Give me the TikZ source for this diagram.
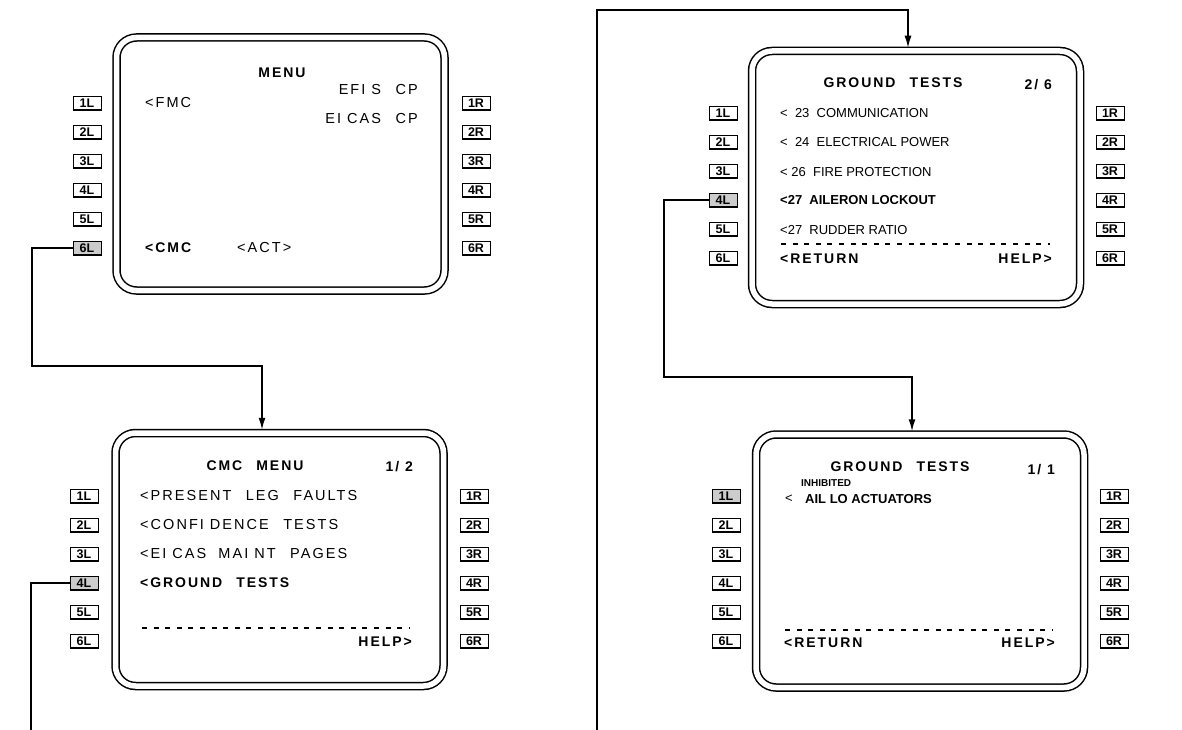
\documentclass[tikz,border=0pt]{standalone}
\usepackage{fontspec}
\setmainfont{Liberation Sans}
\newfontfamily\spaced[LetterSpace=14]{Liberation Sans}
\usetikzlibrary{positioning, arrows.meta}

\tikzset{
    key/.style={draw, line width=0.9pt, minimum width=28pt, minimum height=12.5pt, inner sep=0pt,
        font=\bfseries\fontsize{12.5}{12.5}\selectfont},
    screen/.style={draw, double, double distance=5.5pt, line width=1.5pt, rounded corners=20pt,
        minimum width=328pt, minimum height=253pt},
    link/.style={line width=1.5pt},
    linkto/.style={link, -{Latex[length=12pt,width=7pt]}, shorten >=2.5pt},
    txt/.style={inner sep=0pt, font=\spaced\fontsize{14.5}{14.5}\selectfont},
    txtb/.style={inner sep=0pt, font=\spaced\bfseries\fontsize{14}{14}\selectfont},
    plain/.style={inner sep=0pt, font=\fontsize{13}{13}\selectfont},
    plainb/.style={inner sep=0pt, font=\bfseries\fontsize{13}{13}\selectfont},
    dashrow/.style={line width=1.3pt, dash pattern=on 5pt off 6.6pt}
}

\begin{document}
\begin{tikzpicture}[x=1pt, y=-1pt]
    \useasboundingbox (0,0) rectangle (1182,730);

    % the four display screens
    \node[screen] (menu) at (280.5,164) {};
    \node[screen] (cmc) at (279.5,559.5) {};
    \node[screen] (gt) at (916,177.5) {};
    \node[screen] (inh) at (920,561) {};

    % line select keys, the pressed one shaded
    \foreach \s/\xl/\xr/\yo/\on in {a/87/476/103/6, b/84/474/496/4, c/723/1110/113/4, d/726/1114/496/1} {
        \foreach \i in {1,...,6} {
            \pgfmathparse{\i==\on ? "gray!40" : "white"}
            \edef\kfill{\pgfmathresult}
            \node[key, fill=\kfill] (\s L\i) at (\xl, {\yo+29*(\i-1)}) {\i L};
            \node[key] (\s R\i) at (\xr, {\yo+29*(\i-1)}) {\i R};
            \draw[line width=1.9pt] (\s L\i.north east) -- (\s L\i.south east) -- (\s L\i.south west);
            \draw[line width=1.9pt] (\s R\i.north east) -- (\s R\i.south east) -- (\s R\i.south west);
        }
    }

    % MENU page
    \node[txtb] (menuT) at (282,73) {MENU};
    \node[txt, anchor=east] (efis) at (418,90) {EFI S\quad CP};
    \node[txt, anchor=west] (fmc) at (145,103) {<FMC};
    \node[txt, anchor=east] (eicas) at (418,119) {EI CAS\quad CP};
    \node[txtb, anchor=west] (cmcItem) at (145,248) {<CMC};
    \node[txt, anchor=west] (act) at (237,248) {<ACT>};

    % CMC MENU page
    \node[txtb] (cmcT) at (255,466) {CMC\quad MENU};
    \node[txtb, anchor=east] (cmcP) at (413,467) {1/ 2};
    \node[txt, anchor=west] (legf) at (140,496) {<PRESENT\quad LEG\quad FAULTS};
    \node[txt, anchor=west] (conf) at (140,525) {<CONFI DENCE\quad TESTS};
    \node[txt, anchor=west] (maint) at (140,554) {<EI CAS\ \ MAI NT\quad PAGES};
    \node[txtb, anchor=west] (gtItem) at (140,583) {<GROUND\quad TESTS};
    \draw[dashrow] (142,628) -- (410,628);
    \node[txtb, anchor=east] (cmcHelp) at (412,642) {HELP>};

    % GROUND TESTS 2/6 page
    \node[txtb] (gtT) at (893,83) {GROUND\quad TESTS};
    \node[txtb, anchor=east] (gtP) at (1052,85) {2/ 6};
    \node[plain, anchor=west] (ata23) at (780,113) {<\ \ 23\ \ COMMUNICATION};
    \node[plain, anchor=west] (ata24) at (780,142) {<\ \ 24\ \ ELECTRICAL POWER};
    \node[plain, anchor=west] (ata26) at (780,172) {<\ 26\ \ FIRE PROTECTION};
    \node[plainb, anchor=west] (ata27a) at (780,200) {<27\ \ AILERON LOCKOUT};
    \node[plain, anchor=west] (ata27b) at (780,230) {<27\ \ RUDDER RATIO};
    \draw[dashrow] (781,244) -- (1050,244);
    \node[txtb, anchor=west] (gtRet) at (780,259) {<RETURN};
    \node[txtb, anchor=east] (gtHelp) at (1052,259) {HELP>};

    % GROUND TESTS 1/1 page
    \node[txtb] (inhT) at (900,467) {GROUND\quad TESTS};
    \node[txtb, anchor=east] (inhP) at (1055,470) {1/ 1};
    \node[inner sep=0pt, anchor=west, font=\bfseries\fontsize{10}{10}\selectfont] (inhibited) at (801,483) {INHIBITED};
    \node[plain, anchor=west] (sel) at (785,499) {<};
    \node[plainb, anchor=west] (ailLo) at (805,499) {AIL LO ACTUATORS};
    \draw[dashrow] (785,630) -- (1052,630);
    \node[txtb, anchor=west] (inhRet) at (784,643) {<RETURN};
    \node[txtb, anchor=east] (inhHelp) at (1055,643) {HELP>};

    % connectors between pages
    \coordinate (endB) at (31,730);
    \coordinate (startC) at (597,730);
    \draw[linkto] (aL6.west) -| (32,366) -| ([xshift=-17.5pt]cmc.north);
    \draw[link] (bL4.west) -| (endB);
    \draw[linkto] (startC) -- (597,10) -| ([xshift=-8pt]gt.north);
    \draw[linkto] (cL4.west) -| (664,377) -| ([xshift=-8pt]inh.north);
\end{tikzpicture}
\end{document}
